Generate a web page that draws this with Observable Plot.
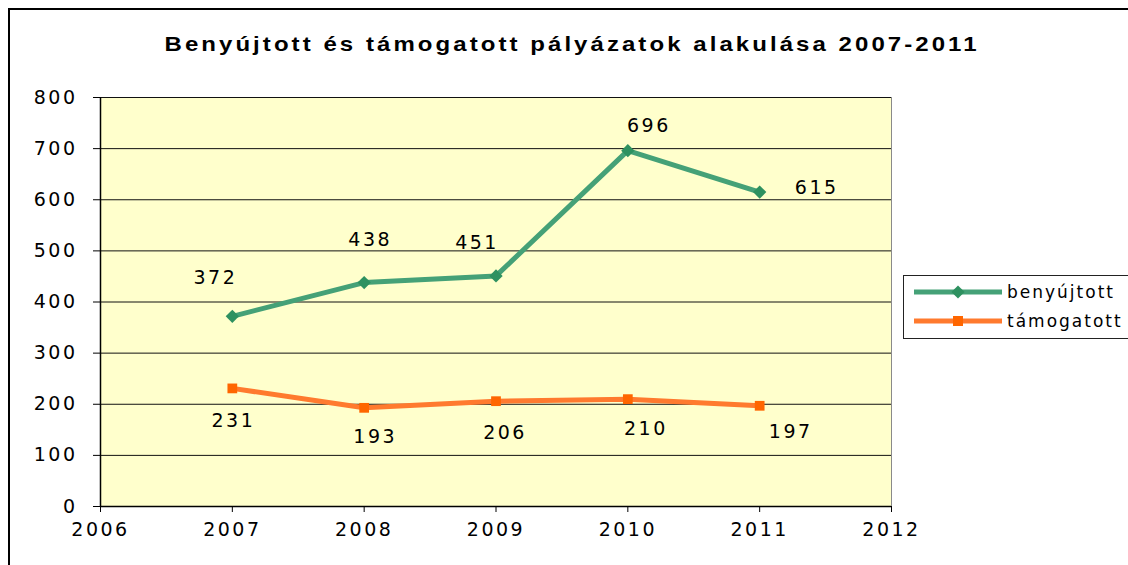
<!DOCTYPE html>
<html>
<head>
<meta charset="utf-8">
<script src="https://cdn.jsdelivr.net/npm/d3@7"></script>
<script src="https://cdn.jsdelivr.net/npm/@observablehq/plot@0.6"></script>
<style>
  html, body { margin: 0; padding: 0; background: #fff; }
  #wrap { position: relative; width: 1128px; height: 565px; overflow: hidden; }
  #border { position: absolute; left: 8px; top: 8px; width: 1200px; height: 600px; border: 2px solid #000; }
  #chart { position: absolute; left: 0; top: 0; }
</style>
</head>
<body>
<div id="wrap"><div id="border"></div><div id="chart"></div></div>
<script>
const title = "Benyújtott és támogatott pályázatok alakulása 2007-2011";
const years = [2007, 2008, 2009, 2010, 2011];
const benyujtott = [372, 438, 451, 696, 615];
const tamogatott = [231, 193, 206, 210, 197];
const seriesNames = ["benyújtott", "támogatott"];
const xTicks = [2006, 2007, 2008, 2009, 2010, 2011, 2012];
const yTicks = [0, 100, 200, 300, 400, 500, 600, 700, 800];
// label offsets (px) as placed in the original
const greenLabelOffsets = [[-17, -38], [6, -43], [-19, -33], [21, -25], [57, -4]];
const orangeLabelOffsets = [[1, 33], [11, 29], [9, 32], [18, 30], [31, 26]];

const green = "#45a177", greenDark = "#2e9160";
const orange = "#ff7a2e", orangeDark = "#ff6600";
const font = "'DejaVu Sans', 'Liberation Sans', sans-serif";
const titleFont = "'Liberation Sans', Arial, sans-serif";

const gData = years.map((y, i) => ({year: y, value: benyujtott[i]}));
const oData = years.map((y, i) => ({year: y, value: tamogatott[i]}));

const labelMarks = (data, offs) => data.map((d, i) =>
  Plot.text([d], {x: "year", y: "value", text: d => String(d.value), dx: offs[i][0], dy: offs[i][1],
    fontSize: 19, fill: "#000"}));

const chart = Plot.plot({
  width: 1128, height: 565,
  marginLeft: 100, marginRight: 237, marginTop: 97, marginBottom: 59,
  style: {fontFamily: font, fontSize: "19px", color: "#000", background: "transparent", letterSpacing: "2.5px"},
  x: {domain: [2006, 2012], ticks: xTicks, tickFormat: "d", tickSize: 6, tickPadding: 10, label: null},
  y: {domain: [0, 800], ticks: yTicks, tickSize: 7, tickPadding: 16, label: null},
  marks: [
    Plot.frame({fill: "#ffffcc", stroke: "#8a8a8a"}),
    Plot.ruleY(yTicks, {stroke: "#111", strokeWidth: 1}),
    Plot.ruleX([2006], {stroke: "#000", strokeWidth: 1.5}),
    Plot.ruleY([0], {stroke: "#000", strokeWidth: 1.5}),
    Plot.axisX({ticks: xTicks, tickFormat: "d", tickSize: 6, tickPadding: 10, fontSize: 19}),
    Plot.axisY({ticks: yTicks, tickSize: 7, tickPadding: 16, fontSize: 19}),
    Plot.line(gData, {x: "year", y: "value", stroke: green, strokeWidth: 5}),
    Plot.line(oData, {x: "year", y: "value", stroke: orange, strokeWidth: 5}),
    Plot.dot(gData, {x: "year", y: "value", symbol: "diamond2", r: 6, fill: greenDark, stroke: "none"}),
    Plot.dot(oData, {x: "year", y: "value", symbol: "square", r: 5.5, fill: orangeDark, stroke: "none"}),
    ...labelMarks(gData, greenLabelOffsets),
    ...labelMarks(oData, orangeLabelOffsets)
  ]
});

const svg = d3.select(chart);
// Title (horizontally stretched like the original)
const sx = 1.2;
svg.append("text")
  .attr("transform", `translate(572,51) scale(${sx},1)`)
  .attr("text-anchor", "middle")
  .attr("font-family", titleFont).attr("font-weight", "bold").attr("font-size", 20)
  .attr("textLength", 815 / sx).attr("lengthAdjust", "spacing")
  .attr("fill", "#000")
  .text(title);

// Legend
const lg = svg.append("g").attr("font-family", font).attr("font-size", 17)
  .attr("letter-spacing", "2px").attr("text-anchor", "start");
lg.append("rect").attr("x", 903.5).attr("y", 275.5).attr("width", 260).attr("height", 63)
  .attr("fill", "#fff").attr("stroke", "#222").attr("stroke-width", 1);
const items = [
  {name: seriesNames[0], color: green, mark: greenDark, sym: d3.symbolDiamond2, y: 292},
  {name: seriesNames[1], color: orange, mark: orangeDark, sym: d3.symbolSquare, y: 321}
];
items.forEach(it => {
  lg.append("line").attr("x1", 914).attr("x2", 1002).attr("y1", it.y).attr("y2", it.y)
    .attr("stroke", it.color).attr("stroke-width", 5);
  lg.append("path").attr("d", d3.symbol(it.sym, it.sym === d3.symbolDiamond2 ? 110 : 100)())
    .attr("transform", `translate(958,${it.y})`).attr("fill", it.mark);
  lg.append("text").attr("x", 1007).attr("y", it.y).attr("dy", "0.35em").attr("fill", "#000").text(it.name);
});

document.getElementById("chart").appendChild(chart);
</script>
</body>
</html>
